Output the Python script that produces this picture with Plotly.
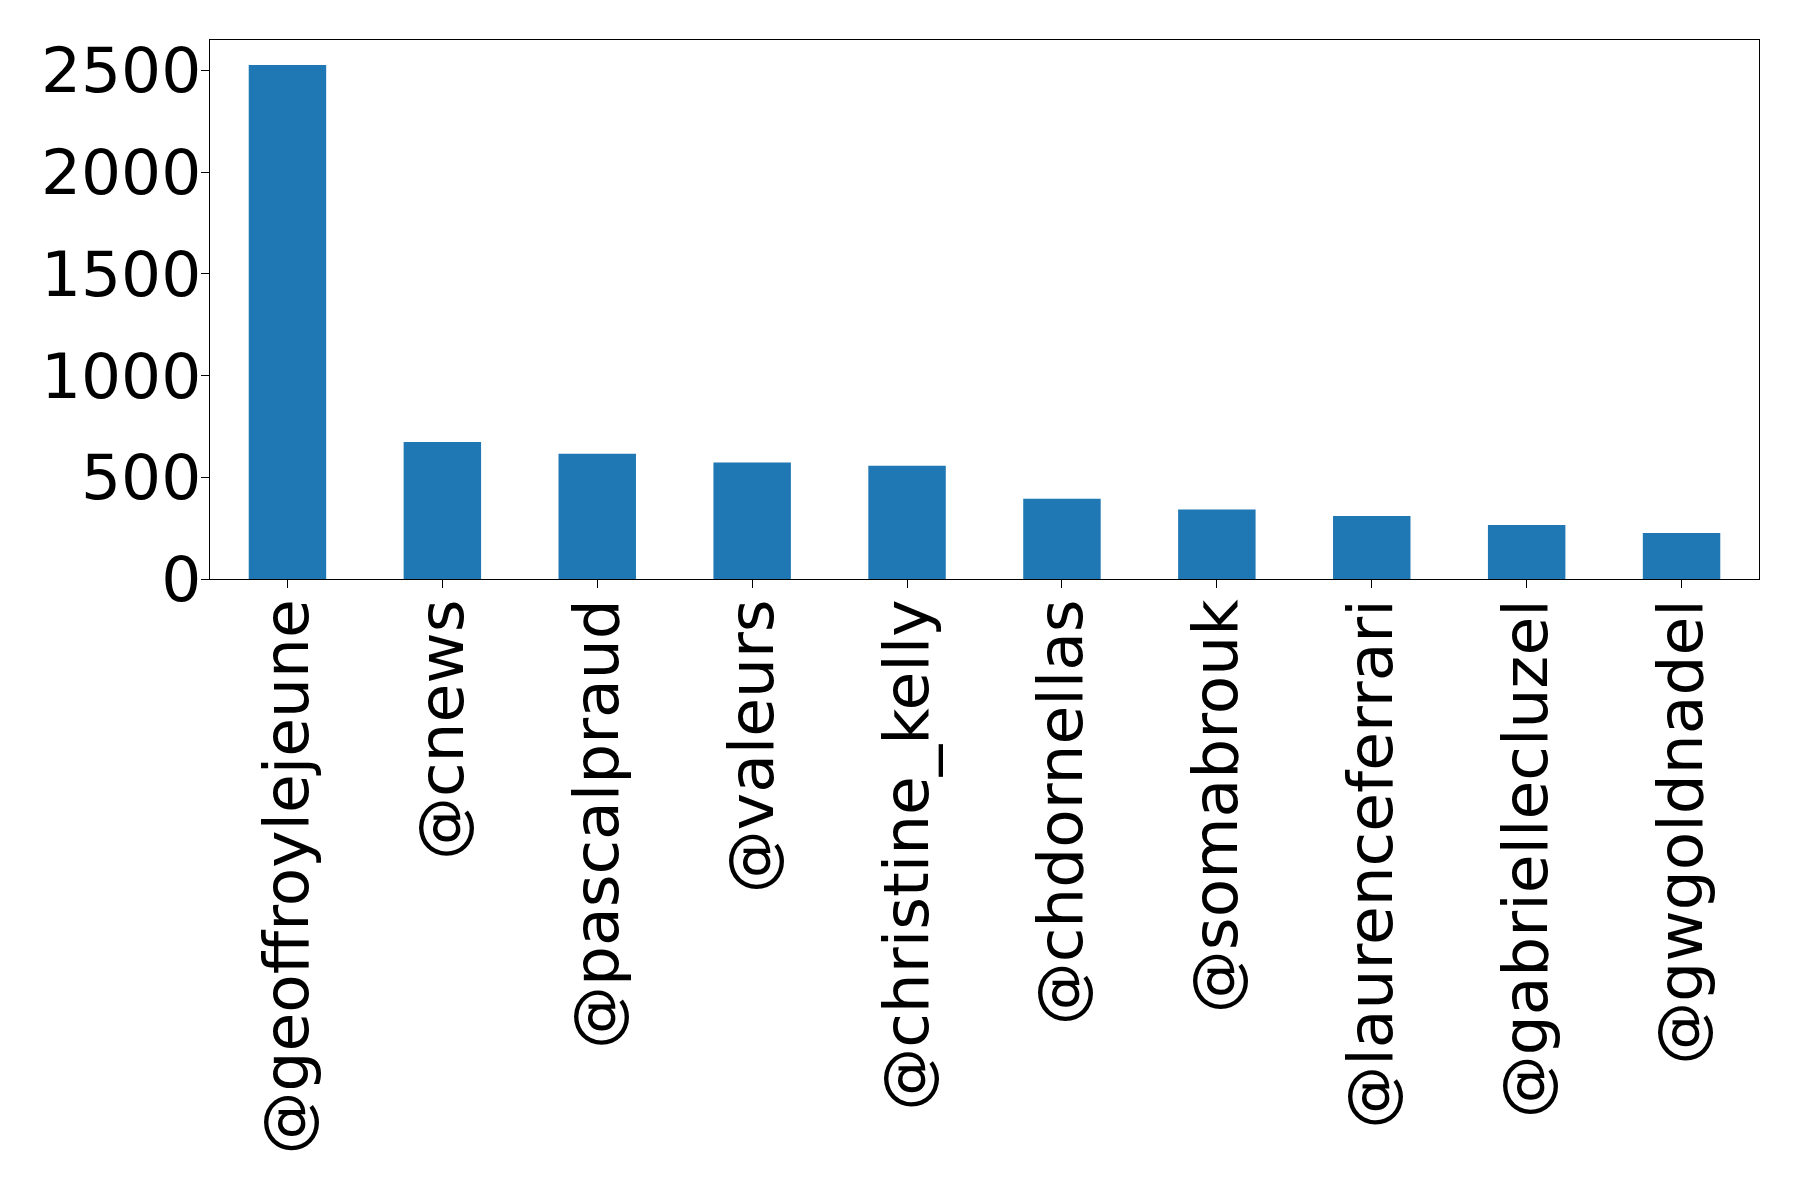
import plotly.graph_objects as go

accounts = ["@geoffroylejeune", "@cnews", "@pascalpraud", "@valeurs", "@christine_kelly",
            "@chdornellas", "@somabrouk", "@laurenceferrari", "@gabriellecluzel", "@gwgoldnadel"]
counts = [2526, 673, 616, 572, 557, 395, 341, 310, 265, 226]
y_ticks = [0, 500, 1000, 1500, 2000, 2500]

fig = go.Figure(go.Bar(x=accounts, y=counts, marker=dict(color="#1f77b4", line=dict(width=0)),
                       width=0.5))

axis_common = dict(showline=True, linecolor="black", linewidth=1.3, mirror=True,
                   ticks="outside", ticklen=8, tickwidth=1.3, tickcolor="black",
                   showgrid=False, zeroline=False,
                   tickfont=dict(family="DejaVu Sans", size=63, color="black"))

fig.update_layout(
    width=1798, height=1180,
    margin=dict(l=202, r=47, t=32, b=609, pad=0),
    paper_bgcolor="white", plot_bgcolor="white",
    showlegend=False,
    xaxis=dict(**axis_common, tickangle=-90, range=[-0.5, 9.5], type="category",
               ticklabelstandoff=-14),
    yaxis=dict(**axis_common, range=[0, 2649], tickvals=y_ticks,
               ticktext=[str(v) for v in y_ticks], ticklabelstandoff=-13),
)

fig.write_html("out.html")
